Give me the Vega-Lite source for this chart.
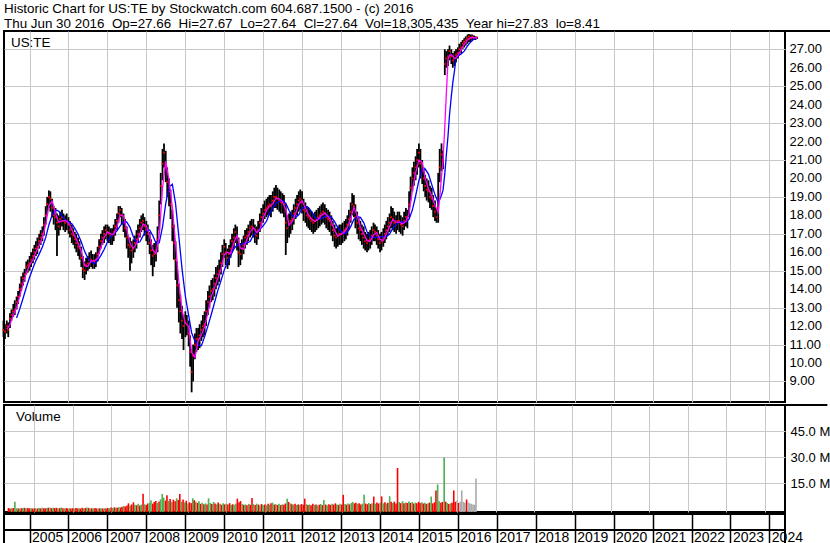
{
"$schema":"https://vega.github.io/schema/vega-lite/v6.json",
"background":"white",
"padding":{"left":1,"top":2,"right":0,"bottom":0},
"spacing":0,
"title":{"text":["Historic Chart for US:TE by Stockwatch.com 604.687.1500 - (c) 2016","Thu Jun 30 2016\u00a0 Op=27.66\u00a0 Hi=27.67\u00a0 Lo=27.64\u00a0 Cl=27.64\u00a0 Vol=18,305,435\u00a0 Year hi=27.83\u00a0 lo=8.41"],"anchor":"start","frame":"group","baseline":"bottom","offset":-15,"fontSize":13.4,"lineHeight":14.3,"font":"Liberation Sans","fontWeight":"normal","color":"#000000"},
"config":{"view":{"stroke":"#000000","strokeWidth":2},"axis":{"labelFont":"Liberation Sans","labelColor":"#000000","labelFontSize":13,"gridColor":"#c8c8c8","gridOpacity":1,"gridWidth":1},"text":{"font":"Liberation Sans","fontSize":13.4,"color":"#000000"}},
"datasets":{
"one":[{"t":1}],
"lv":[{"lv":9},{"lv":10},{"lv":11},{"lv":12},{"lv":13},{"lv":14},{"lv":15},{"lv":16},{"lv":17},{"lv":18},{"lv":19},{"lv":20},{"lv":21},{"lv":22},{"lv":23},{"lv":24},{"lv":25},{"lv":26},{"lv":27}],
"px":[
{"d":"2004-05-01","h":12.3,"l":11.4,"c":11.8,"v":0.9,"k":"d"},
{"d":"2004-05-15","h":12.1,"l":11.3,"c":11.7,"v":0.7,"k":"d"},
{"d":"2004-06-01","h":12.3,"l":11.6,"c":12.0,"v":0.8,"k":"u"},
{"d":"2004-06-15","h":12.2,"l":11.4,"c":11.8,"v":0.9,"k":"d"},
{"d":"2004-07-01","h":12.7,"l":11.9,"c":12.4,"v":4.5,"k":"u"},
{"d":"2004-07-15","h":12.9,"l":12.3,"c":12.6,"v":0.8,"k":"u"},
{"d":"2004-08-01","h":13.2,"l":12.5,"c":12.8,"v":0.7,"k":"d"},
{"d":"2004-08-15","h":13.4,"l":12.6,"c":12.9,"v":0.6,"k":"u"},
{"d":"2004-09-01","h":13.6,"l":12.9,"c":13.3,"v":0.8,"k":"d"},
{"d":"2004-09-15","h":13.9,"l":13.2,"c":13.6,"v":0.9,"k":"u"},
{"d":"2004-10-01","h":14.3,"l":13.6,"c":14.0,"v":1.0,"k":"d"},
{"d":"2004-10-15","h":14.7,"l":13.9,"c":14.3,"v":0.8,"k":"u"},
{"d":"2004-11-01","h":14.9,"l":14.2,"c":14.6,"v":0.9,"k":"d"},
{"d":"2004-11-15","h":15.1,"l":14.4,"c":14.8,"v":0.7,"k":"d"},
{"d":"2004-12-01","h":15.5,"l":14.8,"c":15.2,"v":0.8,"k":"u"},
{"d":"2004-12-15","h":15.6,"l":14.9,"c":15.3,"v":0.6,"k":"d"},
{"d":"2005-01-01","h":15.8,"l":15.0,"c":15.4,"v":0.7,"k":"d"},
{"d":"2005-01-15","h":16.0,"l":15.2,"c":15.6,"v":0.8,"k":"u"},
{"d":"2005-02-01","h":16.2,"l":15.4,"c":15.8,"v":0.6,"k":"d"},
{"d":"2005-02-15","h":16.4,"l":15.6,"c":16.0,"v":0.9,"k":"u"},
{"d":"2005-03-01","h":16.6,"l":15.8,"c":16.2,"v":0.7,"k":"d"},
{"d":"2005-03-15","h":16.8,"l":15.9,"c":16.3,"v":1.0,"k":"u"},
{"d":"2005-04-01","h":17.0,"l":16.2,"c":16.6,"v":0.8,"k":"d"},
{"d":"2005-04-15","h":17.2,"l":16.4,"c":16.8,"v":0.7,"k":"d"},
{"d":"2005-05-01","h":17.4,"l":16.6,"c":17.0,"v":0.9,"k":"u"},
{"d":"2005-05-15","h":17.9,"l":16.9,"c":17.5,"v":1.1,"k":"d"},
{"d":"2005-06-01","h":18.5,"l":17.5,"c":18.0,"v":1.0,"k":"u"},
{"d":"2005-06-15","h":19.0,"l":18.0,"c":18.6,"v":0.8,"k":"d"},
{"d":"2005-07-01","h":19.35,"l":18.4,"c":19.0,"v":1.1,"k":"u"},
{"d":"2005-07-15","h":19.3,"l":18.2,"c":18.9,"v":0.9,"k":"d"},
{"d":"2005-08-01","h":18.9,"l":17.9,"c":18.4,"v":1.0,"k":"d"},
{"d":"2005-08-15","h":18.5,"l":17.5,"c":18.0,"v":0.8,"k":"u"},
{"d":"2005-09-01","h":18.4,"l":17.2,"c":17.9,"v":0.9,"k":"d"},
{"d":"2005-09-15","h":18.1,"l":15.8,"c":17.6,"v":1.2,"k":"u"},
{"d":"2005-10-01","h":18.0,"l":16.9,"c":17.4,"v":0.8,"k":"d"},
{"d":"2005-10-15","h":18.2,"l":17.2,"c":17.8,"v":0.7,"k":"u"},
{"d":"2005-11-01","h":18.3,"l":17.4,"c":17.9,"v":0.9,"k":"d"},
{"d":"2005-11-15","h":18.1,"l":17.2,"c":17.7,"v":0.6,"k":"d"},
{"d":"2005-12-01","h":18.0,"l":17.1,"c":17.6,"v":0.8,"k":"u"},
{"d":"2005-12-15","h":18.1,"l":17.2,"c":17.7,"v":0.7,"k":"d"},
{"d":"2006-01-01","h":17.9,"l":17.0,"c":17.5,"v":0.8,"k":"d"},
{"d":"2006-01-15","h":17.7,"l":16.8,"c":17.2,"v":0.6,"k":"u"},
{"d":"2006-02-01","h":17.5,"l":16.5,"c":17.0,"v":0.9,"k":"d"},
{"d":"2006-02-15","h":17.3,"l":16.4,"c":16.9,"v":0.7,"k":"d"},
{"d":"2006-03-01","h":17.1,"l":16.2,"c":16.7,"v":0.8,"k":"u"},
{"d":"2006-03-15","h":17.0,"l":16.0,"c":16.5,"v":0.6,"k":"d"},
{"d":"2006-04-01","h":16.8,"l":15.8,"c":16.3,"v":1.1,"k":"d"},
{"d":"2006-04-15","h":16.6,"l":15.6,"c":16.2,"v":0.7,"k":"u"},
{"d":"2006-05-01","h":16.3,"l":15.2,"c":15.7,"v":0.9,"k":"d"},
{"d":"2006-05-15","h":15.8,"l":14.6,"c":15.1,"v":1.2,"k":"u"},
{"d":"2006-06-01","h":15.5,"l":14.5,"c":15.0,"v":1.0,"k":"d"},
{"d":"2006-06-15","h":15.7,"l":14.8,"c":15.3,"v":0.7,"k":"u"},
{"d":"2006-07-01","h":15.8,"l":15.0,"c":15.4,"v":0.8,"k":"d"},
{"d":"2006-07-15","h":16.0,"l":15.1,"c":15.6,"v":0.6,"k":"u"},
{"d":"2006-08-01","h":16.1,"l":15.2,"c":15.6,"v":0.9,"k":"d"},
{"d":"2006-08-15","h":15.9,"l":15.1,"c":15.5,"v":0.7,"k":"d"},
{"d":"2006-09-01","h":15.9,"l":15.1,"c":15.5,"v":0.6,"k":"u"},
{"d":"2006-09-15","h":16.0,"l":15.2,"c":15.6,"v":0.8,"k":"d"},
{"d":"2006-10-01","h":16.3,"l":15.5,"c":15.9,"v":0.7,"k":"u"},
{"d":"2006-10-15","h":16.7,"l":15.9,"c":16.3,"v":0.6,"k":"d"},
{"d":"2006-11-01","h":17.0,"l":16.2,"c":16.6,"v":0.8,"k":"u"},
{"d":"2006-11-15","h":17.2,"l":16.4,"c":16.8,"v":0.7,"k":"d"},
{"d":"2006-12-01","h":17.4,"l":16.5,"c":17.0,"v":0.9,"k":"d"},
{"d":"2006-12-15","h":17.5,"l":16.7,"c":17.2,"v":0.8,"k":"u"},
{"d":"2007-01-01","h":17.5,"l":16.6,"c":17.1,"v":1.2,"k":"d"},
{"d":"2007-01-15","h":17.4,"l":16.5,"c":17.0,"v":0.9,"k":"u"},
{"d":"2007-02-01","h":17.3,"l":16.4,"c":16.9,"v":1.3,"k":"d"},
{"d":"2007-02-15","h":17.3,"l":16.4,"c":16.9,"v":1.0,"k":"u"},
{"d":"2007-03-01","h":17.5,"l":16.6,"c":17.1,"v":1.1,"k":"d"},
{"d":"2007-03-15","h":17.8,"l":16.9,"c":17.4,"v":1.4,"k":"u"},
{"d":"2007-04-01","h":18.1,"l":17.2,"c":17.7,"v":1.2,"k":"d"},
{"d":"2007-04-15","h":18.5,"l":17.6,"c":18.1,"v":1.6,"k":"d"},
{"d":"2007-05-01","h":18.5,"l":17.9,"c":18.3,"v":2.0,"k":"u"},
{"d":"2007-05-15","h":18.4,"l":17.5,"c":18.0,"v":1.8,"k":"d"},
{"d":"2007-06-01","h":18.1,"l":17.1,"c":17.6,"v":2.4,"k":"d"},
{"d":"2007-06-15","h":17.8,"l":16.8,"c":17.3,"v":3.6,"k":"d"},
{"d":"2007-07-01","h":17.4,"l":16.2,"c":16.8,"v":2.2,"k":"u"},
{"d":"2007-07-15","h":16.9,"l":15.7,"c":16.4,"v":3.0,"k":"d"},
{"d":"2007-08-01","h":16.8,"l":15.0,"c":16.3,"v":4.2,"k":"d"},
{"d":"2007-08-15","h":16.6,"l":15.4,"c":16.1,"v":2.8,"k":"u"},
{"d":"2007-09-01","h":16.7,"l":15.7,"c":16.2,"v":2.5,"k":"d"},
{"d":"2007-09-15","h":16.9,"l":16.0,"c":16.5,"v":3.3,"k":"u"},
{"d":"2007-10-01","h":17.2,"l":16.2,"c":16.7,"v":2.4,"k":"d"},
{"d":"2007-10-15","h":17.5,"l":16.5,"c":17.0,"v":2.9,"k":"u"},
{"d":"2007-11-01","h":17.8,"l":16.8,"c":17.3,"v":9.1,"k":"d"},
{"d":"2007-11-15","h":18.0,"l":17.1,"c":17.6,"v":3.1,"k":"u"},
{"d":"2007-12-01","h":18.1,"l":17.2,"c":17.7,"v":2.6,"k":"d"},
{"d":"2007-12-15","h":17.9,"l":16.9,"c":17.4,"v":3.5,"k":"d"},
{"d":"2008-01-01","h":17.7,"l":16.6,"c":17.2,"v":4.0,"k":"u"},
{"d":"2008-01-15","h":17.5,"l":16.4,"c":17.0,"v":5.3,"k":"u"},
{"d":"2008-02-01","h":17.1,"l":15.9,"c":16.5,"v":3.4,"k":"d"},
{"d":"2008-02-15","h":16.7,"l":15.3,"c":16.1,"v":4.4,"k":"d"},
{"d":"2008-03-01","h":16.4,"l":14.7,"c":15.8,"v":5.0,"k":"d"},
{"d":"2008-03-15","h":16.5,"l":15.2,"c":15.9,"v":3.8,"k":"u"},
{"d":"2008-04-01","h":16.6,"l":15.5,"c":16.1,"v":4.6,"k":"d"},
{"d":"2008-04-15","h":17.4,"l":16.0,"c":16.7,"v":5.9,"k":"u"},
{"d":"2008-05-01","h":18.8,"l":17.2,"c":18.0,"v":9.0,"k":"u"},
{"d":"2008-05-15","h":20.3,"l":18.6,"c":19.6,"v":6.8,"k":"u"},
{"d":"2008-06-01","h":21.6,"l":19.9,"c":20.8,"v":5.2,"k":"d"},
{"d":"2008-06-15","h":21.9,"l":20.6,"c":21.4,"v":8.3,"k":"d"},
{"d":"2008-07-01","h":21.5,"l":19.8,"c":20.6,"v":4.9,"k":"u"},
{"d":"2008-07-15","h":20.6,"l":19.0,"c":19.8,"v":6.1,"k":"d"},
{"d":"2008-08-01","h":20.0,"l":18.5,"c":19.3,"v":4.3,"k":"u"},
{"d":"2008-08-15","h":19.4,"l":17.8,"c":18.6,"v":5.7,"k":"d"},
{"d":"2008-09-01","h":18.3,"l":16.6,"c":17.4,"v":4.8,"k":"d"},
{"d":"2008-09-15","h":17.5,"l":15.6,"c":16.5,"v":6.5,"k":"u"},
{"d":"2008-10-01","h":16.6,"l":14.5,"c":15.6,"v":5.5,"k":"d"},
{"d":"2008-10-15","h":15.5,"l":13.0,"c":14.2,"v":8.9,"k":"d"},
{"d":"2008-11-01","h":14.3,"l":12.2,"c":13.4,"v":4.6,"k":"u"},
{"d":"2008-11-15","h":13.7,"l":11.6,"c":12.8,"v":5.8,"k":"d"},
{"d":"2008-12-01","h":13.1,"l":11.3,"c":12.3,"v":4.1,"k":"u"},
{"d":"2008-12-15","h":12.6,"l":10.7,"c":12.0,"v":5.1,"k":"d"},
{"d":"2009-01-01","h":12.8,"l":11.4,"c":12.2,"v":3.5,"k":"u"},
{"d":"2009-01-15","h":12.6,"l":11.5,"c":12.1,"v":4.2,"k":"d"},
{"d":"2009-02-01","h":12.3,"l":10.9,"c":11.6,"v":3.7,"k":"d"},
{"d":"2009-02-15","h":11.5,"l":9.8,"c":10.6,"v":6.5,"k":"u"},
{"d":"2009-03-01","h":10.6,"l":8.41,"c":9.5,"v":5.4,"k":"d"},
{"d":"2009-03-15","h":11.0,"l":9.0,"c":10.4,"v":4.6,"k":"u"},
{"d":"2009-04-01","h":11.6,"l":10.2,"c":11.0,"v":3.9,"k":"d"},
{"d":"2009-04-15","h":11.9,"l":10.6,"c":11.3,"v":4.8,"k":"u"},
{"d":"2009-05-01","h":11.9,"l":10.7,"c":11.3,"v":3.3,"k":"d"},
{"d":"2009-05-15","h":12.1,"l":10.8,"c":11.5,"v":4.0,"k":"u"},
{"d":"2009-06-01","h":12.3,"l":11.2,"c":11.8,"v":3.1,"k":"d"},
{"d":"2009-06-15","h":12.6,"l":11.4,"c":12.0,"v":3.6,"k":"u"},
{"d":"2009-07-01","h":12.8,"l":11.5,"c":12.1,"v":2.9,"k":"d"},
{"d":"2009-07-15","h":13.4,"l":12.0,"c":12.8,"v":6.5,"k":"u"},
{"d":"2009-08-01","h":13.9,"l":12.6,"c":13.3,"v":3.8,"k":"u"},
{"d":"2009-08-15","h":14.2,"l":13.0,"c":13.6,"v":3.2,"k":"d"},
{"d":"2009-09-01","h":14.5,"l":13.3,"c":13.9,"v":4.4,"k":"u"},
{"d":"2009-09-15","h":14.6,"l":13.4,"c":14.0,"v":3.5,"k":"d"},
{"d":"2009-10-01","h":14.8,"l":13.6,"c":14.3,"v":3.0,"k":"u"},
{"d":"2009-10-15","h":15.2,"l":14.0,"c":14.6,"v":4.1,"k":"d"},
{"d":"2009-11-01","h":15.3,"l":14.2,"c":14.8,"v":3.3,"k":"u"},
{"d":"2009-11-15","h":15.6,"l":14.4,"c":15.0,"v":2.8,"k":"d"},
{"d":"2009-12-01","h":16.0,"l":14.8,"c":15.4,"v":3.6,"k":"u"},
{"d":"2009-12-15","h":16.4,"l":15.2,"c":15.9,"v":3.0,"k":"d"},
{"d":"2010-01-01","h":16.7,"l":15.7,"c":16.3,"v":3.4,"k":"u"},
{"d":"2010-01-15","h":16.5,"l":15.3,"c":16.0,"v":2.9,"k":"d"},
{"d":"2010-02-01","h":16.2,"l":15.1,"c":15.7,"v":3.7,"k":"d"},
{"d":"2010-02-15","h":16.4,"l":15.3,"c":15.9,"v":2.6,"k":"u"},
{"d":"2010-03-01","h":16.7,"l":15.7,"c":16.2,"v":3.1,"k":"d"},
{"d":"2010-03-15","h":17.0,"l":16.0,"c":16.6,"v":2.8,"k":"u"},
{"d":"2010-04-01","h":17.3,"l":16.2,"c":16.8,"v":3.5,"k":"u"},
{"d":"2010-04-15","h":17.5,"l":16.5,"c":17.1,"v":6.3,"k":"d"},
{"d":"2010-05-01","h":17.4,"l":16.1,"c":16.8,"v":4.2,"k":"d"},
{"d":"2010-05-15","h":16.8,"l":15.2,"c":16.0,"v":4.9,"k":"d"},
{"d":"2010-06-01","h":16.5,"l":15.3,"c":15.9,"v":3.2,"k":"u"},
{"d":"2010-06-15","h":16.7,"l":15.6,"c":16.2,"v":2.7,"k":"d"},
{"d":"2010-07-01","h":16.9,"l":15.9,"c":16.4,"v":3.0,"k":"u"},
{"d":"2010-07-15","h":17.2,"l":16.2,"c":16.8,"v":2.5,"k":"d"},
{"d":"2010-08-01","h":17.3,"l":16.4,"c":16.9,"v":3.3,"k":"u"},
{"d":"2010-08-15","h":17.5,"l":16.6,"c":17.1,"v":2.8,"k":"d"},
{"d":"2010-09-01","h":17.7,"l":16.8,"c":17.3,"v":6.6,"k":"d"},
{"d":"2010-09-15","h":17.8,"l":16.9,"c":17.4,"v":3.1,"k":"u"},
{"d":"2010-10-01","h":17.8,"l":16.8,"c":17.3,"v":2.6,"k":"d"},
{"d":"2010-10-15","h":17.5,"l":16.5,"c":17.0,"v":3.4,"k":"u"},
{"d":"2010-11-01","h":17.4,"l":16.4,"c":16.9,"v":2.9,"k":"d"},
{"d":"2010-11-15","h":17.7,"l":16.7,"c":17.2,"v":2.4,"k":"u"},
{"d":"2010-12-01","h":18.1,"l":17.1,"c":17.6,"v":3.2,"k":"d"},
{"d":"2010-12-15","h":18.4,"l":17.4,"c":17.9,"v":2.7,"k":"u"},
{"d":"2011-01-01","h":18.6,"l":17.6,"c":18.1,"v":3.0,"k":"d"},
{"d":"2011-01-15","h":18.8,"l":17.8,"c":18.3,"v":2.5,"k":"u"},
{"d":"2011-02-01","h":18.9,"l":17.9,"c":18.4,"v":3.3,"k":"d"},
{"d":"2011-02-15","h":19.0,"l":18.0,"c":18.5,"v":2.8,"k":"u"},
{"d":"2011-03-01","h":19.1,"l":18.0,"c":18.6,"v":3.6,"k":"d"},
{"d":"2011-03-15","h":19.1,"l":17.9,"c":18.5,"v":4.0,"k":"u"},
{"d":"2011-04-01","h":19.3,"l":18.2,"c":18.8,"v":2.9,"k":"d"},
{"d":"2011-04-15","h":19.5,"l":18.4,"c":19.0,"v":3.1,"k":"u"},
{"d":"2011-05-01","h":19.65,"l":18.4,"c":19.0,"v":2.7,"k":"d"},
{"d":"2011-05-15","h":19.5,"l":18.3,"c":18.9,"v":3.4,"k":"u"},
{"d":"2011-06-01","h":19.4,"l":18.2,"c":18.8,"v":2.6,"k":"d"},
{"d":"2011-06-15","h":19.3,"l":18.1,"c":18.7,"v":3.0,"k":"u"},
{"d":"2011-07-01","h":19.2,"l":18.1,"c":18.7,"v":2.8,"k":"d"},
{"d":"2011-07-15","h":19.1,"l":17.9,"c":18.6,"v":3.5,"k":"d"},
{"d":"2011-08-01","h":18.6,"l":15.85,"c":17.6,"v":6.3,"k":"u"},
{"d":"2011-08-15","h":18.0,"l":16.5,"c":17.3,"v":4.4,"k":"d"},
{"d":"2011-09-01","h":18.1,"l":16.8,"c":17.5,"v":3.6,"k":"u"},
{"d":"2011-09-15","h":18.2,"l":17.0,"c":17.7,"v":3.1,"k":"d"},
{"d":"2011-10-01","h":18.3,"l":17.2,"c":17.8,"v":2.9,"k":"u"},
{"d":"2011-10-15","h":18.6,"l":17.5,"c":18.1,"v":3.3,"k":"d"},
{"d":"2011-11-01","h":18.9,"l":17.8,"c":18.4,"v":2.7,"k":"u"},
{"d":"2011-11-15","h":19.1,"l":18.0,"c":18.6,"v":3.0,"k":"d"},
{"d":"2011-12-01","h":19.3,"l":18.2,"c":18.8,"v":2.6,"k":"u"},
{"d":"2011-12-15","h":19.4,"l":18.3,"c":18.9,"v":3.2,"k":"d"},
{"d":"2012-01-01","h":19.3,"l":18.1,"c":18.7,"v":2.8,"k":"d"},
{"d":"2012-01-15","h":18.9,"l":17.7,"c":18.3,"v":6.3,"k":"d"},
{"d":"2012-02-01","h":18.7,"l":17.6,"c":18.2,"v":3.1,"k":"u"},
{"d":"2012-02-15","h":18.5,"l":17.4,"c":18.0,"v":2.6,"k":"d"},
{"d":"2012-03-01","h":18.4,"l":17.3,"c":17.9,"v":2.9,"k":"u"},
{"d":"2012-03-15","h":18.3,"l":17.2,"c":17.8,"v":2.5,"k":"d"},
{"d":"2012-04-01","h":18.2,"l":17.1,"c":17.7,"v":3.3,"k":"d"},
{"d":"2012-04-15","h":18.1,"l":17.0,"c":17.6,"v":2.7,"k":"u"},
{"d":"2012-05-01","h":18.2,"l":17.1,"c":17.7,"v":3.0,"k":"d"},
{"d":"2012-05-15","h":18.3,"l":17.2,"c":17.8,"v":2.4,"k":"u"},
{"d":"2012-06-01","h":18.4,"l":17.3,"c":17.9,"v":2.8,"k":"d"},
{"d":"2012-06-15","h":18.5,"l":17.4,"c":18.0,"v":3.2,"k":"u"},
{"d":"2012-07-01","h":18.6,"l":17.5,"c":18.1,"v":2.6,"k":"d"},
{"d":"2012-07-15","h":18.7,"l":17.6,"c":18.2,"v":5.5,"k":"u"},
{"d":"2012-08-01","h":18.6,"l":17.5,"c":18.1,"v":2.9,"k":"d"},
{"d":"2012-08-15","h":18.4,"l":17.3,"c":17.9,"v":2.5,"k":"u"},
{"d":"2012-09-01","h":18.3,"l":17.2,"c":17.8,"v":3.1,"k":"d"},
{"d":"2012-09-15","h":18.2,"l":17.1,"c":17.7,"v":2.7,"k":"d"},
{"d":"2012-10-01","h":18.0,"l":16.9,"c":17.5,"v":3.4,"k":"u"},
{"d":"2012-10-15","h":17.7,"l":16.6,"c":17.2,"v":2.9,"k":"d"},
{"d":"2012-11-01","h":17.5,"l":16.3,"c":16.9,"v":3.6,"k":"d"},
{"d":"2012-11-15","h":17.3,"l":16.2,"c":16.8,"v":3.0,"k":"u"},
{"d":"2012-12-01","h":17.4,"l":16.3,"c":16.9,"v":2.7,"k":"d"},
{"d":"2012-12-15","h":17.5,"l":16.4,"c":17.0,"v":3.3,"k":"u"},
{"d":"2013-01-01","h":17.5,"l":16.4,"c":17.0,"v":2.9,"k":"d"},
{"d":"2013-01-15","h":17.6,"l":16.5,"c":17.1,"v":8.5,"k":"d"},
{"d":"2013-02-01","h":17.7,"l":16.6,"c":17.2,"v":3.2,"k":"u"},
{"d":"2013-02-15","h":17.8,"l":16.7,"c":17.3,"v":2.8,"k":"d"},
{"d":"2013-03-01","h":18.0,"l":16.9,"c":17.5,"v":3.5,"k":"u"},
{"d":"2013-03-15","h":18.3,"l":17.2,"c":17.8,"v":3.0,"k":"d"},
{"d":"2013-04-01","h":18.7,"l":17.6,"c":18.2,"v":3.8,"k":"u"},
{"d":"2013-04-15","h":19.2,"l":18.0,"c":18.6,"v":4.4,"k":"u"},
{"d":"2013-05-01","h":19.1,"l":17.9,"c":18.5,"v":3.6,"k":"d"},
{"d":"2013-05-15","h":18.6,"l":17.3,"c":17.9,"v":4.0,"k":"d"},
{"d":"2013-06-01","h":18.2,"l":17.0,"c":17.6,"v":3.3,"k":"u"},
{"d":"2013-06-15","h":17.9,"l":16.7,"c":17.3,"v":3.7,"k":"d"},
{"d":"2013-07-01","h":17.7,"l":16.6,"c":17.2,"v":3.0,"k":"d"},
{"d":"2013-07-15","h":17.5,"l":16.4,"c":17.0,"v":3.4,"k":"u"},
{"d":"2013-08-01","h":17.4,"l":16.2,"c":16.8,"v":8.6,"k":"u"},
{"d":"2013-08-15","h":17.1,"l":16.1,"c":16.6,"v":3.5,"k":"d"},
{"d":"2013-09-01","h":17.0,"l":16.0,"c":16.5,"v":3.1,"k":"d"},
{"d":"2013-09-15","h":17.1,"l":16.1,"c":16.6,"v":3.8,"k":"u"},
{"d":"2013-10-01","h":17.2,"l":16.2,"c":16.7,"v":3.2,"k":"d"},
{"d":"2013-10-15","h":17.4,"l":16.4,"c":16.9,"v":3.6,"k":"u"},
{"d":"2013-11-01","h":17.6,"l":16.6,"c":17.2,"v":7.5,"k":"d"},
{"d":"2013-11-15","h":17.5,"l":16.6,"c":17.1,"v":3.4,"k":"u"},
{"d":"2013-12-01","h":17.4,"l":16.4,"c":16.9,"v":4.1,"k":"d"},
{"d":"2013-12-15","h":17.2,"l":16.2,"c":16.7,"v":3.5,"k":"d"},
{"d":"2014-01-01","h":17.0,"l":16.0,"c":16.5,"v":3.9,"k":"u"},
{"d":"2014-01-15","h":17.1,"l":16.1,"c":16.6,"v":7.6,"k":"d"},
{"d":"2014-02-01","h":17.3,"l":16.3,"c":16.8,"v":3.6,"k":"u"},
{"d":"2014-02-15","h":17.5,"l":16.5,"c":17.0,"v":4.2,"k":"d"},
{"d":"2014-03-01","h":17.7,"l":16.7,"c":17.2,"v":3.4,"k":"u"},
{"d":"2014-03-15","h":17.9,"l":16.9,"c":17.4,"v":3.9,"k":"d"},
{"d":"2014-04-01","h":18.1,"l":17.1,"c":17.6,"v":7.7,"k":"u"},
{"d":"2014-04-15","h":18.5,"l":17.3,"c":17.9,"v":4.5,"k":"d"},
{"d":"2014-05-01","h":18.4,"l":17.2,"c":17.8,"v":3.8,"k":"u"},
{"d":"2014-05-15","h":18.2,"l":17.1,"c":17.6,"v":4.6,"k":"d"},
{"d":"2014-06-01","h":18.0,"l":17.0,"c":17.5,"v":3.5,"k":"d"},
{"d":"2014-06-15","h":18.2,"l":17.2,"c":17.7,"v":23.9,"k":"d"},
{"d":"2014-07-01","h":18.2,"l":17.1,"c":17.7,"v":4.3,"k":"u"},
{"d":"2014-07-15","h":18.0,"l":17.0,"c":17.5,"v":3.7,"k":"d"},
{"d":"2014-08-01","h":17.9,"l":16.9,"c":17.4,"v":4.8,"k":"u"},
{"d":"2014-08-15","h":18.2,"l":17.2,"c":17.7,"v":3.6,"k":"d"},
{"d":"2014-09-01","h":18.4,"l":17.4,"c":17.9,"v":4.1,"k":"u"},
{"d":"2014-09-15","h":18.3,"l":17.3,"c":17.8,"v":3.8,"k":"d"},
{"d":"2014-10-01","h":19.3,"l":17.9,"c":18.6,"v":4.6,"k":"u"},
{"d":"2014-10-15","h":20.1,"l":18.8,"c":19.5,"v":3.9,"k":"d"},
{"d":"2014-11-01","h":20.6,"l":19.3,"c":20.0,"v":4.4,"k":"u"},
{"d":"2014-11-15","h":20.9,"l":19.6,"c":20.3,"v":3.5,"k":"d"},
{"d":"2014-12-01","h":21.2,"l":19.9,"c":20.6,"v":4.0,"k":"u"},
{"d":"2014-12-15","h":21.6,"l":20.2,"c":21.0,"v":3.6,"k":"d"},
{"d":"2015-01-01","h":21.9,"l":20.6,"c":21.4,"v":4.5,"k":"d"},
{"d":"2015-01-15","h":21.6,"l":20.0,"c":20.8,"v":3.8,"k":"d"},
{"d":"2015-02-01","h":21.0,"l":19.7,"c":20.4,"v":4.2,"k":"u"},
{"d":"2015-02-15","h":20.6,"l":19.3,"c":20.0,"v":3.5,"k":"d"},
{"d":"2015-03-01","h":20.2,"l":19.0,"c":19.6,"v":3.9,"k":"u"},
{"d":"2015-03-15","h":20.0,"l":18.8,"c":19.4,"v":3.3,"k":"d"},
{"d":"2015-04-01","h":19.9,"l":18.7,"c":19.3,"v":3.7,"k":"u"},
{"d":"2015-04-15","h":19.6,"l":18.4,"c":19.0,"v":4.0,"k":"d"},
{"d":"2015-05-01","h":19.5,"l":18.3,"c":18.9,"v":7.5,"k":"u"},
{"d":"2015-05-15","h":19.1,"l":17.9,"c":18.5,"v":3.6,"k":"d"},
{"d":"2015-06-01","h":18.8,"l":17.7,"c":18.2,"v":4.2,"k":"d"},
{"d":"2015-06-15","h":18.4,"l":17.6,"c":17.9,"v":11.0,"k":"d"},
{"d":"2015-07-01","h":20.3,"l":17.6,"c":18.4,"v":14.4,"k":"u"},
{"d":"2015-07-15","h":21.6,"l":19.8,"c":20.6,"v":4.8,"k":"u"},
{"d":"2015-08-01","h":21.9,"l":20.4,"c":21.3,"v":3.9,"k":"d"},
{"d":"2015-08-15","h":21.5,"l":20.5,"c":21.0,"v":4.4,"k":"d"},
{"d":"2015-09-01","h":27.0,"l":25.6,"c":26.2,"v":30.0,"k":"u"},
{"d":"2015-09-15","h":26.9,"l":26.0,"c":26.5,"v":4.6,"k":"d"},
{"d":"2015-10-01","h":27.0,"l":26.1,"c":26.6,"v":3.8,"k":"u"},
{"d":"2015-10-15","h":27.2,"l":26.4,"c":26.9,"v":3.2,"k":"d"},
{"d":"2015-11-01","h":27.0,"l":26.2,"c":26.6,"v":3.6,"k":"u"},
{"d":"2015-11-15","h":26.8,"l":26.0,"c":26.4,"v":4.0,"k":"d"},
{"d":"2015-12-01","h":26.9,"l":26.1,"c":26.5,"v":11.0,"k":"d"},
{"d":"2015-12-15","h":27.0,"l":26.3,"c":26.7,"v":4.5,"k":"d"},
{"d":"2016-01-01","h":27.1,"l":26.5,"c":26.8,"v":5.2,"k":"n"},
{"d":"2016-01-15","h":27.3,"l":26.7,"c":27.0,"v":3.8,"k":"d"},
{"d":"2016-02-01","h":27.4,"l":26.8,"c":27.1,"v":4.6,"k":"n"},
{"d":"2016-02-15","h":27.5,"l":27.0,"c":27.3,"v":11.0,"k":"n"},
{"d":"2016-03-01","h":27.6,"l":27.1,"c":27.4,"v":4.4,"k":"n"},
{"d":"2016-03-15","h":27.7,"l":27.2,"c":27.5,"v":3.9,"k":"n"},
{"d":"2016-04-01","h":27.8,"l":27.3,"c":27.6,"v":5.8,"k":"d"},
{"d":"2016-04-15","h":27.83,"l":27.4,"c":27.7,"v":4.2,"k":"n"},
{"d":"2016-05-01","h":27.8,"l":27.4,"c":27.6,"v":3.6,"k":"n"},
{"d":"2016-05-15","h":27.8,"l":27.5,"c":27.7,"v":3.3,"k":"n"},
{"d":"2016-06-01","h":27.75,"l":27.5,"c":27.6,"v":3.0,"k":"n"},
{"d":"2016-06-15","h":27.7,"l":27.5,"c":27.6,"v":2.8,"k":"n"},
{"d":"2016-06-29","h":27.67,"l":27.55,"c":27.64,"v":17.8,"k":"n"}
],
"ma":[
{"d":"2004-06-01","m":11.83},{"d":"2004-07-01","m":12.07},{"d":"2004-08-01","m":12.6},
{"d":"2004-09-01","m":13.0,"b":12.44},{"d":"2004-10-01","m":13.63,"b":12.93},{"d":"2004-11-01","m":14.3,"b":13.51},{"d":"2004-12-01","m":14.87,"b":14.09},
{"d":"2005-01-01","m":15.3,"b":14.65},{"d":"2005-02-01","m":15.6,"b":15.13},{"d":"2005-03-01","m":16.0,"b":15.54},{"d":"2005-04-01","m":16.37,"b":15.9},{"d":"2005-05-01","m":16.8,"b":16.29},{"d":"2005-06-01","m":17.5,"b":16.8},{"d":"2005-07-01","m":18.53,"b":17.48},{"d":"2005-08-01","m":18.77,"b":18.03},{"d":"2005-09-01","m":18.1,"b":18.29},{"d":"2005-10-01","m":17.63,"b":18.23},{"d":"2005-11-01","m":17.7,"b":17.99},{"d":"2005-12-01","m":17.73,"b":17.74},
{"d":"2006-01-01","m":17.6,"b":17.65},{"d":"2006-02-01","m":17.23,"b":17.55},{"d":"2006-03-01","m":16.87,"b":17.29},{"d":"2006-04-01","m":16.5,"b":16.98},{"d":"2006-05-01","m":16.07,"b":16.56},{"d":"2006-06-01","m":15.27,"b":16.05},{"d":"2006-07-01","m":15.23,"b":15.69},{"d":"2006-08-01","m":15.53,"b":15.49},{"d":"2006-09-01","m":15.53,"b":15.38},{"d":"2006-10-01","m":15.67,"b":15.55},{"d":"2006-11-01","m":16.27,"b":15.83},{"d":"2006-12-01","m":16.8,"b":16.15},
{"d":"2007-01-01","m":17.1,"b":16.56},{"d":"2007-02-01","m":17.0,"b":16.86},{"d":"2007-03-01","m":16.97,"b":17.0},{"d":"2007-04-01","m":17.4,"b":17.16},{"d":"2007-05-01","m":18.03,"b":17.43},{"d":"2007-06-01","m":17.97,"b":17.64},{"d":"2007-07-01","m":17.23,"b":17.65},{"d":"2007-08-01","m":16.5,"b":17.35},{"d":"2007-09-01","m":16.2,"b":16.84},{"d":"2007-10-01","m":16.47,"b":16.54},{"d":"2007-11-01","m":17.0,"b":16.56},{"d":"2007-12-01","m":17.53,"b":16.89},
{"d":"2008-01-01","m":17.43,"b":17.18},{"d":"2008-02-01","m":16.9,"b":17.21},{"d":"2008-03-01","m":16.13,"b":16.91},{"d":"2008-04-01","m":15.93,"b":16.5},{"d":"2008-05-01","m":16.93,"b":16.51},{"d":"2008-06-01","m":19.47,"b":17.38},{"d":"2008-07-01","m":20.93,"b":18.64},{"d":"2008-08-01","m":19.9,"b":19.53},{"d":"2008-09-01","m":18.43,"b":19.69},{"d":"2008-10-01","m":16.5,"b":18.65},{"d":"2008-11-01","m":14.4,"b":16.85},{"d":"2008-12-01","m":12.83,"b":15.1},
{"d":"2009-01-01","m":12.17,"b":13.63},{"d":"2009-02-01","m":11.97,"b":12.58},{"d":"2009-03-01","m":10.57,"b":11.64},{"d":"2009-04-01","m":10.3,"b":11.18},{"d":"2009-05-01","m":11.2,"b":10.98},{"d":"2009-06-01","m":11.53,"b":10.93},{"d":"2009-07-01","m":11.97,"b":11.43},{"d":"2009-08-01","m":12.73,"b":12.01},{"d":"2009-09-01","m":13.6,"b":12.63},{"d":"2009-10-01","m":14.07,"b":13.25},{"d":"2009-11-01","m":14.57,"b":13.91},{"d":"2009-12-01","m":15.07,"b":14.45},
{"d":"2010-01-01","m":15.87,"b":15.04},{"d":"2010-02-01","m":16.0,"b":15.46},{"d":"2010-03-01","m":15.93,"b":15.8},{"d":"2010-04-01","m":16.53,"b":16.18},{"d":"2010-05-01","m":16.9,"b":16.39},{"d":"2010-06-01","m":16.23,"b":16.41},{"d":"2010-07-01","m":16.17,"b":16.48},{"d":"2010-08-01","m":16.7,"b":16.51},{"d":"2010-09-01","m":17.1,"b":16.58},{"d":"2010-10-01","m":17.33,"b":16.93},{"d":"2010-11-01","m":17.07,"b":17.09},{"d":"2010-12-01","m":17.23,"b":17.23},
{"d":"2011-01-01","m":17.87,"b":17.43},{"d":"2011-02-01","m":18.27,"b":17.68},{"d":"2011-03-01","m":18.5,"b":18.08},{"d":"2011-04-01","m":18.63,"b":18.39},{"d":"2011-05-01","m":18.93,"b":18.64},{"d":"2011-06-01","m":18.9,"b":18.76},{"d":"2011-07-01","m":18.73,"b":18.8},{"d":"2011-08-01","m":18.3,"b":18.66},{"d":"2011-09-01","m":17.47,"b":18.26},{"d":"2011-10-01","m":17.67,"b":17.99},{"d":"2011-11-01","m":18.1,"b":17.88},{"d":"2011-12-01","m":18.6,"b":18.03},
{"d":"2012-01-01","m":18.8,"b":18.38},{"d":"2012-02-01","m":18.4,"b":18.5},{"d":"2012-03-01","m":18.03,"b":18.43},{"d":"2012-04-01","m":17.8,"b":18.19},{"d":"2012-05-01","m":17.67,"b":17.9},{"d":"2012-06-01","m":17.8,"b":17.8},{"d":"2012-07-01","m":18.0,"b":17.83},{"d":"2012-08-01","m":18.13,"b":17.93},{"d":"2012-09-01","m":17.93,"b":17.98},{"d":"2012-10-01","m":17.67,"b":17.91},{"d":"2012-11-01","m":17.2,"b":17.66},{"d":"2012-12-01","m":16.87,"b":17.34},
{"d":"2013-01-01","m":16.97,"b":17.13},{"d":"2013-02-01","m":17.1,"b":17.01},{"d":"2013-03-01","m":17.33,"b":17.1},{"d":"2013-04-01","m":17.83,"b":17.39},{"d":"2013-05-01","m":18.43,"b":17.78},{"d":"2013-06-01","m":18.0,"b":17.93},{"d":"2013-07-01","m":17.37,"b":17.89},{"d":"2013-08-01","m":17.0,"b":17.61},{"d":"2013-09-01","m":16.63,"b":17.11},{"d":"2013-10-01","m":16.6,"b":16.84},{"d":"2013-11-01","m":16.93,"b":16.79},{"d":"2013-12-01","m":17.07,"b":16.81},
{"d":"2014-01-01","m":16.7,"b":16.83},{"d":"2014-02-01","m":16.63,"b":16.84},{"d":"2014-03-01","m":17.0,"b":16.85},{"d":"2014-04-01","m":17.4,"b":16.98},{"d":"2014-05-01","m":17.77,"b":17.29},{"d":"2014-06-01","m":17.63,"b":17.5},{"d":"2014-07-01","m":17.63,"b":17.65},{"d":"2014-08-01","m":17.53,"b":17.64},{"d":"2014-09-01","m":17.67,"b":17.63},{"d":"2014-10-01","m":18.1,"b":17.79},{"d":"2014-11-01","m":19.37,"b":18.3},{"d":"2014-12-01","m":20.3,"b":19.05},
{"d":"2015-01-01","m":21.0,"b":19.9},{"d":"2015-02-01","m":20.87,"b":20.5},{"d":"2015-03-01","m":20.0,"b":20.51},{"d":"2015-04-01","m":19.43,"b":20.24},{"d":"2015-05-01","m":19.07,"b":19.68},{"d":"2015-06-01","m":18.53,"b":19.11},{"d":"2015-07-01","m":18.17,"b":18.7},{"d":"2015-07-15","m":18.97,"b":18.85},{"d":"2015-08-01","m":20.1,"b":19.1},{"d":"2015-08-15","m":20.97,"b":19.35},{"d":"2015-09-01","m":22.83,"b":20.26},{"d":"2015-09-15","m":24.57,"b":21.26},{"d":"2015-10-01","m":26.43,"b":22.31},{"d":"2015-10-15","m":26.67,"b":23.44},{"d":"2015-11-01","m":26.7,"b":24.46},{"d":"2015-11-15","m":26.63,"b":25.19},{"d":"2015-12-01","m":26.5,"b":25.84},{"d":"2015-12-15","m":26.53,"b":26.55},
{"d":"2016-01-01","m":26.67,"b":26.63},{"d":"2016-02-01","m":26.97,"b":26.75},{"d":"2016-03-01","m":27.27,"b":26.9},{"d":"2016-04-01","m":27.5,"b":27.18},{"d":"2016-05-01","m":27.63,"b":27.4},{"d":"2016-06-01","m":27.63,"b":27.55},{"d":"2016-06-29","m":27.61,"b":27.62}
]
},
"vconcat":[
{
"width":781,"height":371,
"layer":[
{"data":{"name":"px"},"mark":{"type":"rule","color":"#000000","strokeWidth":1.8},
 "encoding":{
  "x":{"field":"d","type":"temporal","scale":{"domain":["2004-05-06","2024-05-27"]},"axis":{"title":null,"grid":true,"labels":false,"ticks":false,"domain":false,"tickCount":{"interval":"year","step":1}}},
  "y":{"field":"l","type":"quantitative","scale":{"domain":[7.886,27.99],"nice":false,"zero":false},"axis":{"title":null,"orient":"right","values":[9,10,11,12,13,14,15,16,17,18,19,20,21,22,23,24,25,26,27],"grid":true,"labels":false,"domain":false,"ticks":false}},
  "y2":{"field":"h"}}},
{"data":{"name":"px"},"mark":{"type":"square","color":"#ff0000","size":3,"opacity":1},
 "encoding":{"x":{"field":"d","type":"temporal"},"y":{"field":"c","type":"quantitative"}}},
{"data":{"name":"ma"},"transform":[{"filter":"isValid(datum.b)"}],"mark":{"type":"line","color":"#0000ff","strokeWidth":1.3},
 "encoding":{"x":{"field":"d","type":"temporal"},"y":{"field":"b","type":"quantitative"}}},
{"data":{"name":"ma"},"mark":{"type":"line","color":"#ff00ff","strokeWidth":1.3},
 "encoding":{"x":{"field":"d","type":"temporal"},"y":{"field":"m","type":"quantitative"}}},
{"data":{"name":"lv"},"mark":{"type":"text","align":"left","baseline":"middle","dx":4.5,"fontSize":13,"font":"Liberation Sans","color":"#000000"},
 "encoding":{"x":{"datum":{"year":2024,"month":5,"date":27},"type":"temporal"},"y":{"field":"lv","type":"quantitative"},"text":{"field":"lv","type":"quantitative","format":".2f"}}},
{"data":{"name":"one"},"mark":{"type":"rule","color":"#000000","strokeWidth":2},
 "encoding":{"x":{"datum":{"year":2024,"month":5,"date":27},"type":"temporal"},"x2":{"datum":{"year":2025,"month":8,"date":20}},"y":{"datum":27.99,"type":"quantitative"}}},
{"data":{"name":"one"},"mark":{"type":"text","align":"left","baseline":"alphabetic","dx":7,"dy":16,"fontSize":13.4,"font":"Liberation Sans","color":"#000000"},
 "encoding":{"x":{"datum":{"year":2004,"month":5,"date":6},"type":"temporal"},"y":{"datum":27.99,"type":"quantitative"},"text":{"value":"US:TE"}}}
]
},
{
"width":781,"height":107,
"layer":[
{"data":{"name":"px"},"mark":{"type":"bar","size":1.6},
 "encoding":{
  "x":{"field":"d","type":"temporal","scale":{"domain":["2004-05-06","2024-05-27"]},"axis":{"title":null,"grid":true,"labels":false,"ticks":false,"domain":false,"tickCount":{"interval":"year","step":1}}},
  "y":{"field":"v","type":"quantitative","scale":{"domain":[-1.38,60.1],"nice":false,"zero":false},"axis":{"title":null,"orient":"right","values":[15,30,45],"labelExpr":"format(datum.value,'.1f') + ' M'","grid":true,"domain":false,"ticks":false,"labelPadding":5,"labelOverlap":false}},
  "y2":{"datum":-1.38},
  "color":{"field":"k","type":"nominal","scale":{"domain":["u","d","n"],"range":["#4caf50","#ff0000","#aaaaaa"]},"legend":null}}},
{"data":{"name":"one"},"mark":{"type":"rule","color":"#000000","strokeWidth":2},
 "encoding":{"x":{"datum":{"year":2024,"month":5,"date":27},"type":"temporal"},"x2":{"datum":{"year":2025,"month":8,"date":20}},"y":{"datum":60.1,"type":"quantitative"}}},
{"data":{"name":"one"},"mark":{"type":"text","align":"left","baseline":"alphabetic","dx":7,"dy":16,"fontSize":13.4,"font":"Liberation Sans","color":"#000000"},
 "encoding":{"x":{"datum":{"year":2004,"month":5,"date":6},"type":"temporal"},"y":{"datum":60.1,"type":"quantitative"},"text":{"value":"Volume"}}}
]
},
{
"width":781,"height":31,
"layer":[
{"data":{"name":"one"},"mark":{"type":"rule","color":"#000000","strokeWidth":2},
 "encoding":{
  "x":{"datum":{"year":2004,"month":5,"date":6},"type":"temporal","scale":{"domain":["2004-05-06","2024-05-27"]},"axis":{"title":null,"orient":"bottom","grid":true,"gridColor":"#000000","gridWidth":1.5,"ticks":false,"tickSize":0,"domain":false,"labelPadding":-15,"labelAlign":"left","labelOffset":2,"labelFlush":false,"labelFontSize":14,"format":"%Y","labelOverlap":false,"tickCount":{"interval":"year","step":1}}},
  "x2":{"datum":{"year":2024,"month":5,"date":27}},
  "y":{"datum":15,"type":"quantitative","scale":{"domain":[0,31],"nice":false,"zero":false},"axis":null}}}
]
}
]
}
